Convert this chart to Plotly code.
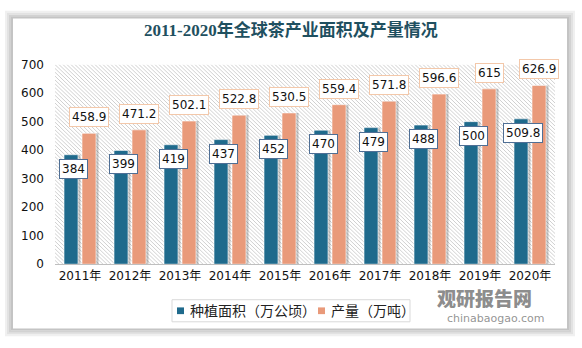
import base64
import plotly.graph_objects as go

years = ["2011年", "2012年", "2013年", "2014年", "2015年", "2016年", "2017年", "2018年", "2019年", "2020年"]
area = [384, 399, 419, 437, 452, 470, 479, 488, 500, 509.8]
output = [458.9, 471.2, 502.1, 522.8, 530.5, 559.4, 571.8, 596.6, 615, 626.9]
area_labels = ["384", "399", "419", "437", "452", "470", "479", "488", "500", "509.8"]
output_labels = ["458.9", "471.2", "502.1", "522.8", "530.5", "559.4", "571.8", "596.6", "615", "626.9"]
series_names = ["种植面积（万公顷）", "产量（万吨）"]

W, H = 582, 348
BLUE = "#1F6A8C"
ORANGE = "#E99A7A"
FONT = "DejaVu Sans, Noto Sans CJK SC"

PX0, PX1, PY0, PY1 = 55, 555, 60, 268
dom_x = [PX0 / W, PX1 / W]
dom_y = [(H - PY1) / H, (H - PY0) / H]


def px(x):
    return x / W


def py(y):
    return 1 - y / H


fig = go.Figure()

bw = 0.28
fig.add_trace(go.Bar(x=years, y=area, width=bw, offset=-0.32 + 0.05,
                     marker=dict(color="rgba(0,0,0,0.22)", line=dict(width=0)),
                     showlegend=False, hoverinfo="skip"))
fig.add_trace(go.Bar(x=years, y=output, width=bw, offset=0.04 + 0.05,
                     marker=dict(color="rgba(0,0,0,0.22)", line=dict(width=0)),
                     showlegend=False, hoverinfo="skip"))
fig.add_trace(go.Bar(x=years, y=area, width=bw, offset=-0.32, name=series_names[0],
                     marker=dict(color=BLUE, line=dict(color="rgba(255,255,255,0.6)", width=1)),
                     showlegend=False))
fig.add_trace(go.Bar(x=years, y=output, width=bw, offset=0.04, name=series_names[1],
                     marker=dict(color=ORANGE, line=dict(color="rgba(255,255,255,0.6)", width=1)),
                     showlegend=False))

annotations = []
for yr, v, t in zip(years, area, area_labels):
    annotations.append(dict(x=yr, y=v, xref="x", yref="y", text=t, showarrow=False,
                            xshift=-7, yshift=-14, yanchor="middle",
                            font=dict(family=FONT, size=12, color="#111"),
                            bgcolor="white", bordercolor="#4F6F95", borderwidth=1, borderpad=2))
for yr, v, t in zip(years, output, output_labels):
    annotations.append(dict(x=yr, y=v, xref="x", yref="y", text=t, showarrow=False,
                            xshift=9, yshift=16, yanchor="middle",
                            font=dict(family=FONT, size=12, color="#111"),
                            bgcolor="white", bordercolor="#F3C8AA", borderwidth=1, borderpad=2))
annotations.append(dict(x=px(291), y=py(24), xref="paper", yref="paper",
                        text="<b>2011-2020年全球茶产业面积及产量情况</b>", showarrow=False,
                        font=dict(family="Liberation Serif, Noto Sans CJK SC", size=17, color="#1F5060"),
                        xanchor="center", yanchor="middle"))
# manual legend texts
annotations.append(dict(x=px(188), y=py(316), xref="paper", yref="paper", text=series_names[0],
                        showarrow=False, xanchor="left", yanchor="middle",
                        font=dict(family="Noto Sans CJK SC", size=14, color="#222")))
annotations.append(dict(x=px(329), y=py(316), xref="paper", yref="paper", text=series_names[1],
                        showarrow=False, xanchor="left", yanchor="middle",
                        font=dict(family="Noto Sans CJK SC", size=14, color="#222")))
# watermark
annotations.append(dict(x=px(484), y=py(303), xref="paper", yref="paper",
                        text="观研报告网", showarrow=False,
                        font=dict(family="Noto Sans CJK SC", size=19, weight=900,
                                  color="rgba(110,110,110,0.8)"),
                        xanchor="center", yanchor="middle"))
annotations.append(dict(x=px(496), y=py(325), xref="paper", yref="paper",
                        text="chinabaogao.com", showarrow=False,
                        font=dict(family="DejaVu Sans", size=11, color="rgba(120,120,120,0.8)"),
                        xanchor="center", yanchor="middle"))

pw, ph = PX1 - PX0, PY1 - PY0
svg = (f'<svg xmlns="http://www.w3.org/2000/svg" width="{pw}" height="{ph}">'
       '<defs><pattern id="p" width="4" height="4" patternUnits="userSpaceOnUse">'
       '<path d="M-1,-1 L5,5 M-1,3 L1,5 M3,-1 L5,1" stroke="#cfcfcf" stroke-width="1"/>'
       '</pattern></defs>'
       f'<rect width="{pw}" height="{ph}" fill="white"/>'
       f'<rect width="{pw}" height="{ph}" fill="url(#p)"/></svg>')
src = "data:image/svg+xml;base64," + base64.b64encode(svg.encode()).decode()

shapes = []
for d, c in [(7, "#f0f0f0"), (5, "#e2e2e2"), (3, "#d2d2d2"), (1, "#c4c4c4")]:
    shapes.append(dict(type="rect", xref="paper", yref="paper", layer="below",
                       x0=px(13 - d), x1=px(567 + d), y0=py(335 + d), y1=py(11 - d + 1),
                       fillcolor="rgba(0,0,0,0)", line=dict(width=2, color=c)))
shapes.append(dict(type="rect", xref="paper", yref="paper", layer="above",
                   x0=px(172), x1=px(410), y0=py(328), y1=py(305),
                   fillcolor="rgba(0,0,0,0)", line=dict(width=1, color="#D9D9D9")))
shapes.append(dict(type="rect", xref="paper", yref="paper", x0=px(177), x1=px(184),
                   y0=py(320), y1=py(313), fillcolor=BLUE, line=dict(width=0)))
shapes.append(dict(type="rect", xref="paper", yref="paper", x0=px(318), x1=px(325),
                   y0=py(320), y1=py(313), fillcolor=ORANGE, line=dict(width=0)))

fig.update_layout(
    width=W, height=H,
    margin=dict(l=0, r=0, t=0, b=0),
    paper_bgcolor="white", plot_bgcolor="rgba(0,0,0,0)",
    barmode="overlay", showlegend=False,
    xaxis=dict(domain=dom_x, type="category", range=[-0.5, 9.5], showline=True,
               linecolor="#BFBFBF", linewidth=1, ticks="", showgrid=False,
               tickfont=dict(family=FONT, size=12, color="#111")),
    yaxis=dict(domain=dom_y, range=[0, 700], dtick=100, showgrid=False, zeroline=False,
               showline=False, ticks="", ticklabelstandoff=10,
               tickfont=dict(family=FONT, size=12, color="#111")),
    annotations=annotations,
    shapes=shapes,
    images=[dict(source=src, xref="paper", yref="paper", x=dom_x[0], y=dom_y[1],
                 sizex=dom_x[1] - dom_x[0], sizey=dom_y[1] - dom_y[0],
                 xanchor="left", yanchor="top", sizing="stretch", layer="below")],
)

fig.write_html("out.html")
